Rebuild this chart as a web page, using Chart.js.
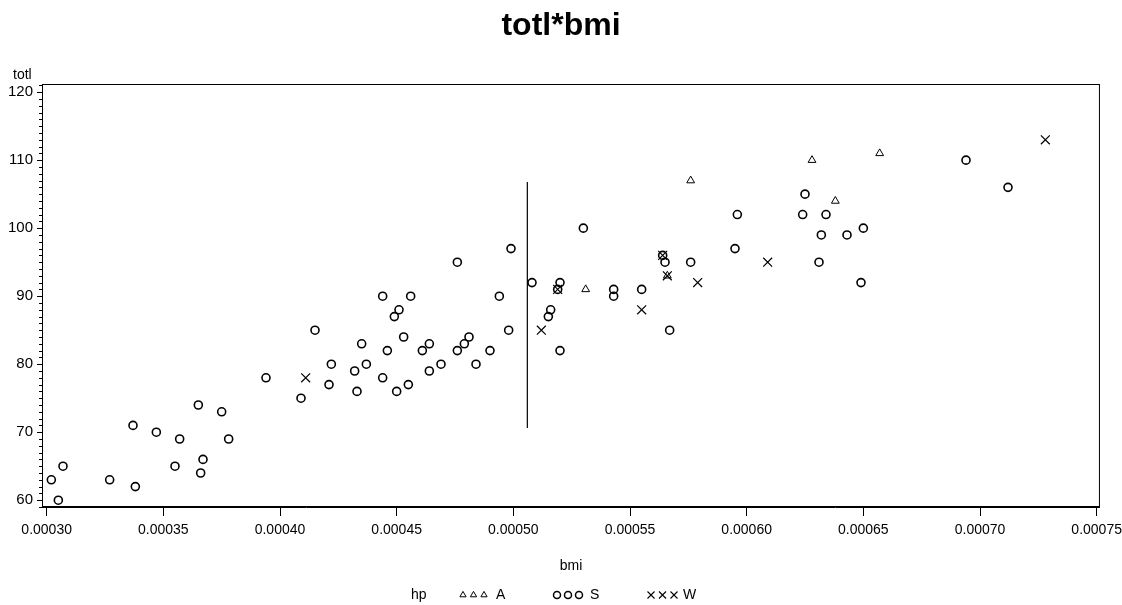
<!DOCTYPE html>
<html lang="en">
<head>
    <meta charset="UTF-8">
    <title>totl*bmi</title>
    <style>
        html, body { margin: 0; padding: 0; background: #fff; }
        #wrap { width: 1122px; height: 605px; }
    </style>
</head>
<body>
    <div id="wrap"><canvas id="scatterChart" width="1122" height="605"></canvas></div>

    <script src="https://cdn.jsdelivr.net/npm/chart.js"></script>
    <script>
// hp = A (triangles)
const aBmi  = [0.000531, 0.000566, 0.000576, 0.000628, 0.000638, 0.000657];
const aTotl = [91, 93, 107, 110, 104, 111];

// hp = S (circles)
const sBmi = [
    0.000302, 0.000305, 0.000307, 0.000327, 0.000338, 0.000337, 0.000347, 0.000357, 0.000355, 0.000365,
    0.000367, 0.000366, 0.000375, 0.000378, 0.000394, 0.000409, 0.000415, 0.000422, 0.000421, 0.000432,
    0.000433, 0.000435, 0.000437, 0.000444, 0.000444, 0.000446, 0.000449, 0.000450, 0.000451, 0.000456,
    0.000453, 0.000455, 0.000461, 0.000464, 0.000464, 0.000469, 0.000476, 0.000476, 0.000479, 0.000481,
    0.000484, 0.000490, 0.000494, 0.000498, 0.000499, 0.000508, 0.000515, 0.000516, 0.000519, 0.000520,
    0.000520, 0.000530, 0.000543, 0.000543, 0.000555, 0.000564, 0.000565, 0.000567, 0.000576, 0.000595,
    0.000596, 0.000624, 0.000625, 0.000631, 0.000632, 0.000634, 0.000643, 0.000649, 0.000650, 0.000694,
    0.000712
];
const sTotl = [
    63, 60, 65, 63, 62, 71, 70, 69, 65, 74,
    66, 64, 73, 69, 78, 75, 85, 80, 77, 79,
    76, 83, 80, 78, 90, 82, 87, 76, 88, 90,
    84, 77, 82, 83, 79, 80, 95, 82, 83, 84,
    80, 82, 90, 85, 97, 92, 87, 88, 91, 92,
    82, 100, 91, 90, 91, 96, 95, 85, 95, 97,
    102, 102, 105, 95, 99, 102, 99, 92, 100, 110,
    106
];

// hp = W (crosses)
const wBmi  = [0.000411, 0.000512, 0.000519, 0.000555, 0.000564, 0.000566, 0.000579, 0.000609, 0.000728];
const wTotl = [78, 85, 91, 88, 96, 93, 92, 95, 113];

// vertical reference line
const refBmi  = [0.000506, 0.000506];
const refTotl = [70.6, 106.8];

const xTickValues = [0.00030, 0.00035, 0.00040, 0.00045, 0.00050, 0.00055, 0.00060, 0.00065, 0.00070, 0.00075];
const yTickValues = [60, 70, 80, 90, 100, 110, 120];

const FONT = "'Liberation Sans', Arial, sans-serif";

function toPoints(xs, ys) {
    return xs.map((v, i) => ({ x: v, y: ys[i] }));
}

// small legend symbols (same shapes as the markers, a bit smaller)
function drawSymbol(ctx, style, x, y) {
    ctx.beginPath();
    if (style === 'triangle') {
        const r = 3.6;
        ctx.lineWidth = 1;
        ctx.moveTo(x, y - r);
        ctx.lineTo(x + r * 0.866, y + r * 0.5);
        ctx.lineTo(x - r * 0.866, y + r * 0.5);
        ctx.closePath();
    } else if (style === 'circle') {
        ctx.lineWidth = 1.5;
        ctx.arc(x, y, 3.5, 0, Math.PI * 2);
    } else {
        const d = 3.5;
        ctx.lineWidth = 1.1;
        ctx.moveTo(x - d, y - d); ctx.lineTo(x + d, y + d);
        ctx.moveTo(x - d, y + d); ctx.lineTo(x + d, y - d);
    }
    ctx.stroke();
}

const sasPlugin = {
    id: 'sasDecor',
    afterDraw(chart) {
        const { ctx, chartArea: a, scales: { y } } = chart;
        ctx.save();
        ctx.strokeStyle = '#000';
        ctx.fillStyle = '#000';

        // frame
        ctx.lineWidth = 1;
        ctx.strokeRect(a.left + 0.5, a.top + 0.5, a.right - a.left - 1, a.bottom - a.top - 1);

        // minor ticks on y axis
        ctx.beginPath();
        for (let v = Math.ceil(y.min); v <= y.max; v++) {
            if (v % 10 === 0) continue;
            const py = Math.round(y.getPixelForValue(v)) + 0.5;
            ctx.moveTo(a.left - 3, py);
            ctx.lineTo(a.left, py);
        }
        ctx.stroke();

        // y axis label
        ctx.font = '14px ' + FONT;
        ctx.textAlign = 'left';
        ctx.textBaseline = 'middle';
        ctx.fillText('totl', 13, 75);

        // legend
        const ly = 595;
        ctx.fillText('hp', 411, ly);
        [463, 473.5, 484].forEach(cx => drawSymbol(ctx, 'triangle', cx, ly));
        ctx.fillText('A', 496, ly);
        [557, 568, 579].forEach(cx => drawSymbol(ctx, 'circle', cx, ly));
        ctx.fillText('S', 590, ly);
        [651, 662.5, 674].forEach(cx => drawSymbol(ctx, 'cross', cx, ly));
        ctx.fillText('W', 683, ly);

        ctx.restore();
    }
};

const ctx = document.getElementById('scatterChart').getContext('2d');
new Chart(ctx, {
    type: 'scatter',
    data: {
        datasets: [
            {
                label: 'A',
                data: toPoints(aBmi, aTotl),
                pointStyle: 'triangle',
                pointRadius: 4.5,
                pointHoverRadius: 4.5,
                borderWidth: 1,
                borderColor: '#000',
                backgroundColor: 'rgba(0,0,0,0)'
            },
            {
                label: 'S',
                data: toPoints(sBmi, sTotl),
                pointStyle: 'circle',
                pointRadius: 4,
                pointHoverRadius: 4,
                borderWidth: 1.6,
                borderColor: '#000',
                backgroundColor: 'rgba(0,0,0,0)'
            },
            {
                label: 'W',
                data: toPoints(wBmi, wTotl),
                pointStyle: 'crossRot',
                pointRadius: 6.3,
                pointHoverRadius: 6.3,
                borderWidth: 1.2,
                borderColor: '#000',
                backgroundColor: 'rgba(0,0,0,0)'
            },
            {
                label: 'ref',
                data: toPoints(refBmi, refTotl),
                showLine: true,
                pointRadius: 0,
                borderWidth: 1.2,
                borderColor: '#000'
            }
        ]
    },
    options: {
        responsive: false,
        animation: false,
        events: [],
        layout: { padding: { left: 0, right: 0, top: 0, bottom: 30.6 } },
        plugins: {
            legend: { display: false },
            tooltip: { enabled: false },
            title: {
                display: true,
                text: 'totl*bmi',
                color: '#000',
                font: { family: FONT, size: 32, weight: 'bold', lineHeight: 1.2 },
                padding: { top: 6.5, bottom: 39.1 }
            }
        },
        scales: {
            x: {
                type: 'linear',
                min: 0.000298,
                max: 0.0007514,
                afterBuildTicks: scale => { scale.ticks = xTickValues.map(v => ({ value: v })); },
                ticks: {
                    color: '#000',
                    padding: 0,
                    maxRotation: 0,
                    autoSkip: false,
                    font: { family: FONT, size: 14, lineHeight: 2 },
                    callback: v => v.toFixed(5)
                },
                grid: { drawOnChartArea: false, color: '#000', tickLength: 9, tickWidth: 1 },
                border: { display: true, color: '#000', width: 1 },
                title: {
                    display: true,
                    text: 'bmi',
                    color: '#000',
                    font: { family: FONT, size: 14, lineHeight: 1.2 },
                    padding: { top: 13.6, bottom: 0 }
                }
            },
            y: {
                type: 'linear',
                min: 59.0,
                max: 121.2,
                afterBuildTicks: scale => { scale.ticks = yTickValues.map(v => ({ value: v })); },
                afterFit: scale => { scale.width = 42; },
                ticks: {
                    color: '#000',
                    padding: 4,
                    autoSkip: false,
                    font: { family: FONT, size: 15 },
                    callback: v => String(v)
                },
                grid: { drawOnChartArea: false, color: '#000', tickLength: 5, tickWidth: 1 },
                border: { display: true, color: '#000', width: 1 }
            }
        }
    },
    plugins: [sasPlugin]
});
    </script>
</body>
</html>
